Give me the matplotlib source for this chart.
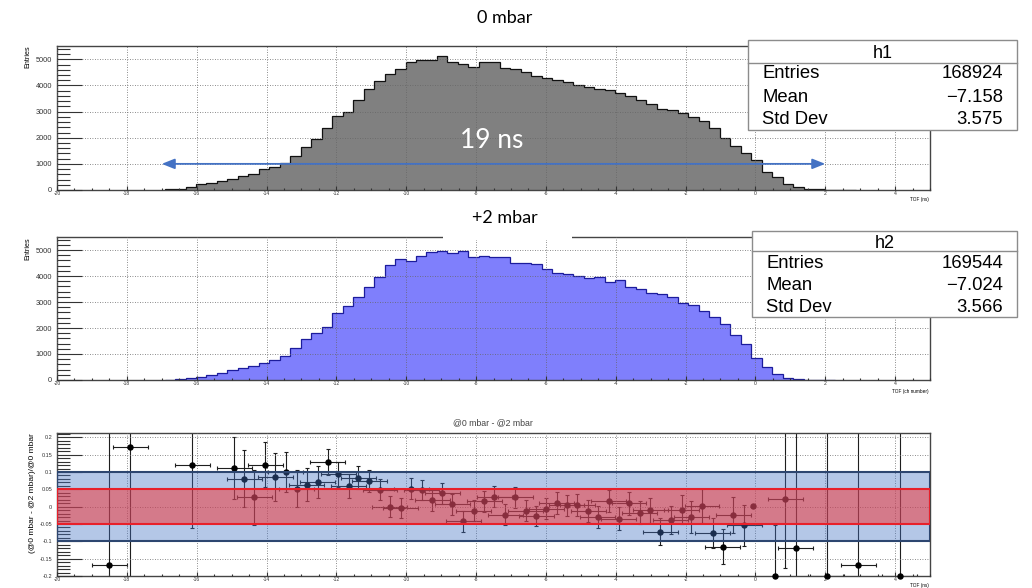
import numpy as np
import matplotlib
matplotlib.use("Agg")
import matplotlib.pyplot as plt
from matplotlib.patches import Rectangle
from matplotlib.lines import Line2D
from matplotlib.ticker import MultipleLocator, FuncFormatter

plt.rcParams["font.family"] = ["Liberation Sans", "DejaVu Sans"]
plt.rcParams["axes.unicode_minus"] = False

W, H = 1032, 588

# ── histogram binning (ns) ───────────────────────────────────────────────────
BIN_LO = -16.92
BIN_W = 0.3

# entries per bin
counts_0mbar = [25, 51, 115, 217, 255, 344, 421, 548, 599, 791, 893,
                1046, 1301, 1658, 1938, 2359, 2831, 2997, 3443, 3851, 4170, 4438,
                4616, 4884, 4973, 4973, 5126, 4884, 4807, 4693, 4884, 4884, 4654,
                4616, 4527, 4374, 4272, 4208, 4119, 4017, 3928, 3851, 3826, 3698,
                3596, 3443, 3290, 3086, 3060, 2933, 2780, 2652, 2359, 1977, 1696,
                1430, 1148, 701, 480, 230, 102, 51, 25, 15, 10, 6]
counts_2mbar = [8, 25, 64, 128, 192, 256, 385, 474, 551, 667, 769,
                936, 1218, 1564, 1795, 2026, 2564, 2846, 3179, 3590, 3974, 4423,
                4641, 4590, 4769, 4910, 4962, 4872, 4962, 4718, 4782, 4718, 4744,
                4487, 4513, 4462, 4256, 4128, 4077, 4000, 3936, 3974, 3782, 3846,
                3590, 3487, 3333, 3308, 3205, 2974, 2885, 2654, 2410, 2154, 1731,
                1400, 833, 513, 231, 64, 26, 15, 10, 5]

stats_rows = ["Entries", "Mean", "Std Dev"]
stats_h1 = ["168924", "\u22127.158", "3.575"]
stats_h2 = ["169544", "\u22127.024", "3.566"]

# relative difference (@0 - @2)/@0 per bin
ratio_x = [-18.50, -17.90, -16.13, -14.92, -14.64, -14.35, -14.03, -13.75,
           -13.45, -13.13, -12.85, -12.54, -12.25, -11.95, -11.65, -11.37,
           -11.06, -10.75, -10.47, -10.16, -9.86, -9.56, -9.26, -8.97, -8.68,
           -8.37, -8.07, -7.77, -7.48, -7.16, -6.88, -6.58, -6.28, -5.99, -5.69,
           -5.40, -5.10, -4.79, -4.51, -4.20, -3.91, -3.62, -3.31, -3.01, -2.72,
           -2.42, -2.11, -1.83, -1.53, -1.22, -0.94, -0.63, -0.32, -0.06, 0.55,
           0.86, 1.15, 2.05, 2.94, 4.13]
ratio_y = [-0.167, 0.171, 0.119, 0.112, 0.081, 0.027, 0.121, 0.085,
           0.100, 0.052, 0.063, 0.071, 0.129, 0.094, 0.059, 0.083,
           0.073, 0.049, 0.000, -0.004, 0.052, 0.048, 0.018, 0.039, 0.007,
           -0.042, -0.012, 0.016, 0.029, -0.023, 0.027, -0.012, -0.027, -0.006, 0.010,
           0.004, 0.005, -0.013, -0.029, 0.016, -0.035, 0.010, -0.017, -0.011, -0.072,
           -0.039, -0.009, -0.030, 0.002, -0.077, -0.115, -0.025, -0.054, 0.001, -0.200,
           0.022, -0.120, -0.200, -0.167, -0.200]
ratio_yerr = [0.6, 0.6, 0.18, 0.09, 0.082, 0.08, 0.065, 0.07,
              0.057, 0.054, 0.048, 0.046, 0.038, 0.036, 0.035, 0.033,
              0.032, 0.031, 0.030, 0.030, 0.030, 0.030, 0.030, 0.030, 0.030,
              0.030, 0.030, 0.030, 0.030, 0.030, 0.030, 0.030, 0.030, 0.030, 0.031,
              0.031, 0.031, 0.031, 0.032, 0.032, 0.033, 0.033, 0.034, 0.035, 0.038,
              0.040, 0.042, 0.045, 0.048, 0.043, 0.050, 0.052, 0.060, 0.0, 0.148,
              0.2, 0.6, 0.6, 0.6, 0.6]
ratio_xerr = [0.5] * 53 + [0.0, 0.0] + [0.5] * 5

FRAME = "#444444"
TICKC = "#333333"


def axes_px(left, top, right, bottom):
    return fig.add_axes([left / W, 1 - bottom / H, (right - left) / W, (bottom - top) / H])


def style(ax, ymaj, ymin, ylab_size, fmt):
    ax.set_xlim(-20, 5)
    ax.xaxis.set_major_locator(MultipleLocator(2))
    ax.xaxis.set_minor_locator(MultipleLocator(0.5))
    ax.yaxis.set_major_locator(MultipleLocator(ymaj))
    ax.yaxis.set_minor_locator(MultipleLocator(ymin))
    ax.yaxis.set_major_formatter(FuncFormatter(fmt))
    ax.tick_params(which="both", direction="in", top=False, right=False,
                   color=TICKC, width=0.8, labelcolor="#333333")
    ax.tick_params(axis="x", which="major", length=3.1, labelsize=3.6, pad=1)
    ax.tick_params(axis="x", which="minor", length=1.6)
    ax.tick_params(axis="y", which="major", length=18, labelsize=ylab_size, pad=3.5)
    ax.tick_params(axis="y", which="minor", length=9.5)
    ax.grid(True, which="major", linestyle=(0, (1, 2)), color="#666666", lw=0.6)
    ax.set_axisbelow(False)
    for sp in ax.spines.values():
        sp.set_color(FRAME)
        sp.set_linewidth(1.0)


def stats_box(left, top, right, bottom, div, name, name_y, row_y, values, tl, tr):
    fig.add_artist(Rectangle((left / W, 1 - bottom / H), (right - left) / W, (bottom - top) / H,
                             transform=fig.transFigure, facecolor="white",
                             edgecolor="#8c8c8c", lw=1.0, zorder=10))
    fig.add_artist(Line2D([left / W, right / W], [1 - div / H] * 2,
                          transform=fig.transFigure, color="#8c8c8c", lw=1.0, zorder=11))
    fig.text((left + right) / 2 / W, 1 - name_y / H, name, ha="center", va="center",
             fontsize=13, zorder=12)
    for lbl, val, yy in zip(stats_rows, values, row_y):
        fig.text(tl / W, 1 - yy / H, lbl, ha="left", va="center", fontsize=13.3, zorder=12)
        fig.text(tr / W, 1 - yy / H, val, ha="right", va="center", fontsize=13.3, zorder=12)


fig = plt.figure(figsize=(W / 100, H / 100), dpi=100)

edges1 = BIN_LO + BIN_W * np.arange(len(counts_0mbar) + 1)
edges2 = BIN_LO + BIN_W * np.arange(len(counts_2mbar) + 1)

# ── panel 1: 0 mbar ─────────────────────────────────────────────────────────
ax1 = axes_px(57, 46, 930, 190)
ax1.stairs(counts_0mbar, edges1, fill=True, color="#808080", zorder=1)
ax1.stairs(counts_0mbar, edges1, color="#111111", lw=0.9, zorder=1.5)
ax1.set_ylim(0, 5510)
style(ax1, 1000, 200, 5.3, lambda v, _: f"{int(v)}")
ax1.annotate("", xy=(-17, 1000), xytext=(2, 1000),
             arrowprops=dict(arrowstyle="<|-|>,head_length=0.55,head_width=0.22",
                             color="#4472c4", lw=1.3, mutation_scale=14,
                             shrinkA=0, shrinkB=0), zorder=4)
ax1.text(-7.54, 1910, "19 ns", color="white", fontsize=19, family=["Lato", "DejaVu Sans"],
         ha="center", va="center", zorder=5)

# ── panel 2: +2 mbar ────────────────────────────────────────────────────────
ax2 = axes_px(57, 237, 930, 380)
ax2.stairs(counts_2mbar, edges2, fill=True, color="#7f7ffc", zorder=1)
ax2.stairs(counts_2mbar, edges2, color="#1c1c9c", lw=0.9, zorder=1.5)
ax2.set_ylim(0, 5500)
style(ax2, 1000, 200, 5.3, lambda v, _: f"{int(v)}")

# ── panel 3: relative difference ─────────────────────────────────────────────
ax3 = axes_px(57, 433, 930, 576)
ax3.errorbar(ratio_x, ratio_y, xerr=ratio_xerr, yerr=ratio_yerr, fmt="none",
             ecolor="#1e1e1e", elinewidth=0.8, capsize=1.4, capthick=0.8, zorder=2)
ax3.plot(ratio_x, ratio_y, "o", color="black", ms=3.6, zorder=3, clip_on=False)
ax3.axhspan(-0.1, 0.1, facecolor=(0.27, 0.45, 0.77, 0.4), edgecolor="#2d4670",
            lw=1.5, zorder=4)
ax3.axhspan(-0.05, 0.05, facecolor=(0.96, 0.18, 0.18, 0.5), edgecolor="#e8202a",
            lw=1.5, zorder=5)
ax3.set_ylim(-0.2, 0.2125)
style(ax3, 0.05, 0.01, 4.0, lambda v, _: f"{v:g}" if abs(v) > 1e-9 else "0")

# ── titles and labels ───────────────────────────────────────────────────────
title_font = ["Lato", "DejaVu Sans"]
fig.text(505 / W, 1 - 18 / H, "0 mbar", ha="center", va="center", fontsize=13,
         family=title_font, zorder=12)
fig.add_artist(Rectangle((443 / W, 1 - 240 / H), 129 / W, 40 / H, transform=fig.transFigure,
                         facecolor="white", edgecolor="none", zorder=10))
fig.text(505 / W, 1 - 218 / H, "+2 mbar", ha="center", va="center", fontsize=13,
         family=title_font, zorder=12)
fig.text(493 / W, 1 - 423 / H, "@0 mbar - @2 mbar", ha="center", va="center",
         fontsize=6.3, color="#444444")

fig.text(27.5 / W, 1 - 45 / H, "Entries", rotation=90, ha="center", va="top", fontsize=5.2)
fig.text(28 / W, 1 - 237 / H, "Entries", rotation=90, ha="center", va="top", fontsize=5.2)
fig.text(33 / W, 1 - 433 / H, "(@0 mbar - @2 mbar)/@0 mbar", rotation=90,
         ha="center", va="top", fontsize=6)
fig.text(929 / W, 1 - 199 / H, "TOF (ns)", ha="right", va="center", fontsize=3.4)
fig.text(929 / W, 1 - 392 / H, "TOF (ch number)", ha="right", va="center", fontsize=3.4)
fig.text(929 / W, 1 - 585 / H, "TOF (ns)", ha="right", va="center", fontsize=3.4)

# ── stat boxes ──────────────────────────────────────────────────────────────
stats_box(748, 40, 1017, 130, 63, "h1", 53, [74, 97, 120], stats_h1, 762, 1003)
stats_box(752, 231, 1017, 317, 251, "h2", 243, [263, 286, 307], stats_h2, 766, 1003)

fig.savefig("out.png", dpi=100)
